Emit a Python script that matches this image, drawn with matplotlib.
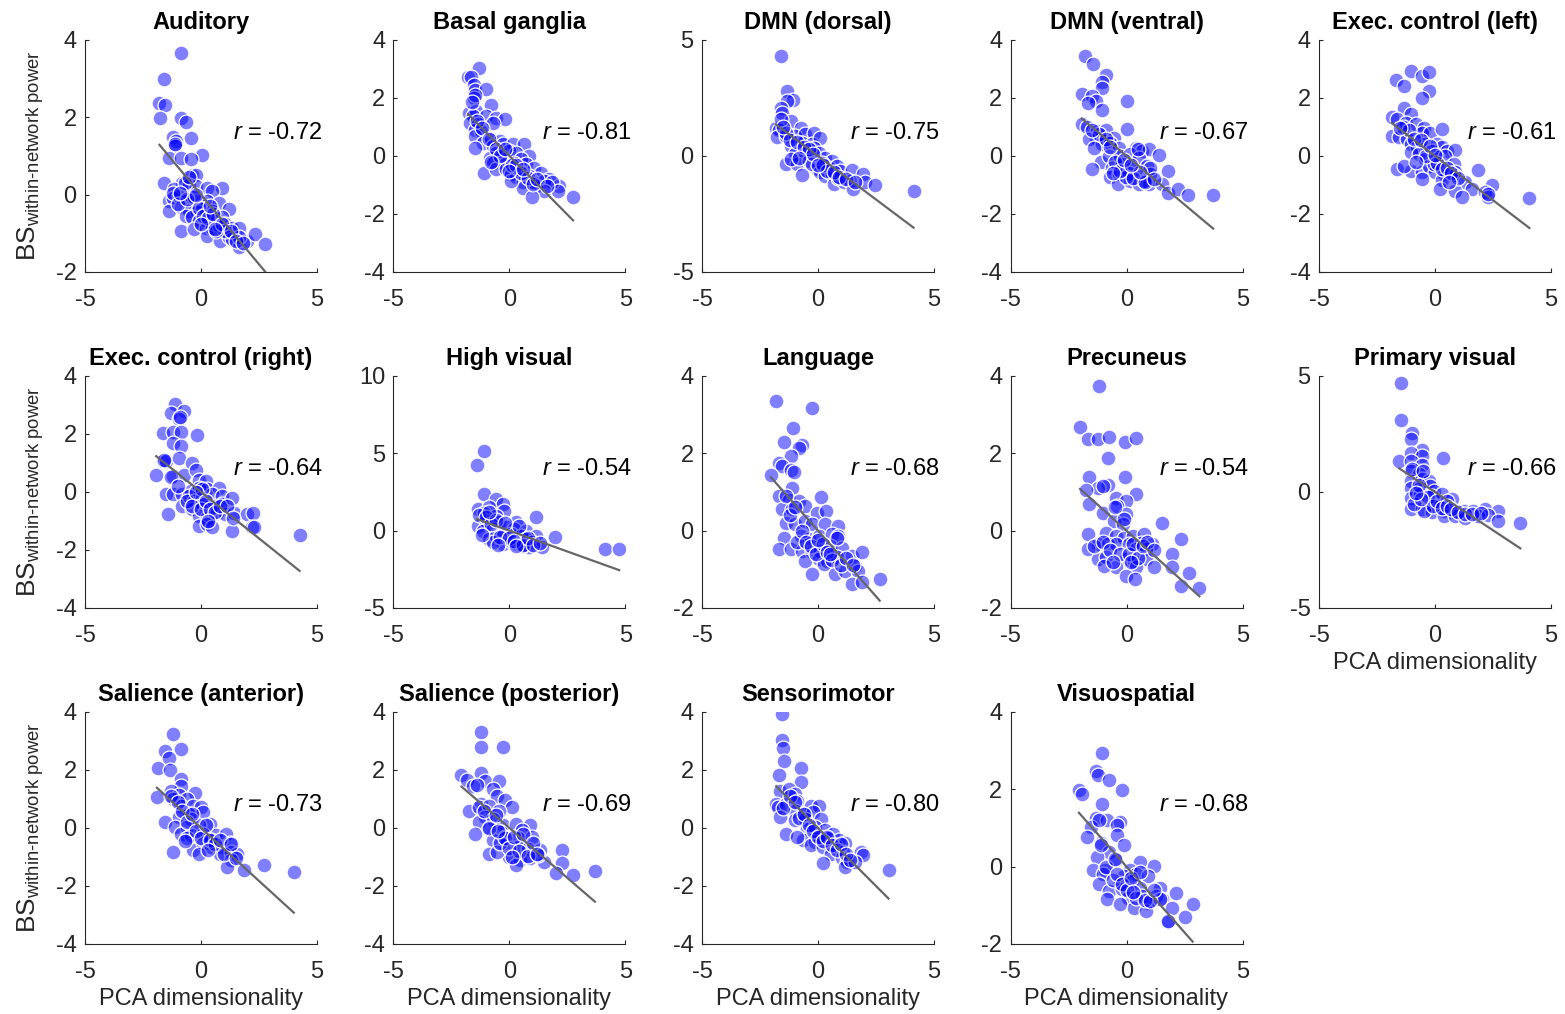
import numpy as np
import matplotlib
matplotlib.use("Agg")
import matplotlib.pyplot as plt

plt.rcParams['font.family'] = ['Liberation Sans', 'DejaVu Sans']
plt.rcParams['mathtext.fontset'] = 'custom'
plt.rcParams['mathtext.rm'] = 'Liberation Sans'
plt.rcParams['mathtext.it'] = 'Liberation Sans:italic'
plt.rcParams['axes.unicode_minus'] = False

# network names, correlation values and y ranges
titles = ['Auditory', 'Basal ganglia', 'DMN (dorsal)', 'DMN (ventral)', 'Exec. control (left)',
          'Exec. control (right)', 'High visual', 'Language', 'Precuneus', 'Primary visual',
          'Salience (anterior)', 'Salience (posterior)', 'Sensorimotor', 'Visuospatial']
r_vals = [-0.72, -0.81, -0.75, -0.67, -0.61, -0.64, -0.54, -0.68, -0.54, -0.66, -0.73, -0.69, -0.80, -0.68]
ylims = [(-2, 4), (-4, 4), (-5, 5), (-4, 4), (-4, 4), (-4, 4), (-5, 10), (-2, 4), (-2, 4), (-5, 5),
         (-4, 4), (-4, 4), (-4, 4), (-2, 4)]
ysteps = [2, 2, 5, 2, 2, 2, 5, 2, 2, 5, 2, 2, 2, 2]

aud_x = [-0.87, -1.58, -1.79, -1.55, -1.76, -0.87, -0.65, -1.22, -1.08, -1.12, -0.44, 0.03, -1.37, -0.87, -0.44,
         -0.37, -0.23, -0.83, -0.51, -0.23, -1.58, -1.15, 0.27, 0.91, 0.48, -1.37, -1.22, -0.94, -0.65, -0.44,
         -0.09, 0.27, 0.77, -1.37, -0.87, -0.51, -0.16, 0.06, 0.20, 0.48, 1.19, -0.65, -0.37, -0.09, 0.27,
         0.63, 0.91, -0.87, -0.30, 0.20, 0.48, 0.77, 1.05, 1.34, 1.62, 0.27, 0.84, 1.19, 1.34, 1.62, 1.98,
         2.33, 2.76, 1.05, 0.63, 1.62,
         -1.2, -1.0, -0.7, -0.5, -0.3, -0.1, 0.1, 0.3, 0.5, -0.6, -0.2, 0.4, 0.9, 1.3, 1.5, 1.8, -0.9, -1.1,
         0.0, 0.6]
aud_y = [3.67, 2.98, 2.36, 2.33, 1.99, 1.97, 1.87, 1.50, 1.38, 1.25, 1.46, 1.02, 0.95, 0.95, 0.91,
         0.52, 0.52, 0.31, 0.26, 0.22, 0.31, 0.14, 0.18, 0.16, 0.09, -0.16, -0.08, -0.03, -0.16, -0.21,
         -0.16, -0.16, -0.21, -0.42, -0.33, -0.42, -0.46, -0.38, -0.50, -0.42, -0.38, -0.55, -0.59, -0.68, -0.68,
         -0.63, -0.59, -0.93, -0.89, -0.85, -0.85, -0.78, -0.76, -0.85, -0.85, -1.06, -1.19, -1.10, -1.15, -1.36, -1.19,
         -1.02, -1.27, -0.94, -0.94, -1.10,
         0.05, -0.25, 0.3, 0.45, -0.05, -0.35, -0.55, -0.6, -0.5, -0.1, 0.0, -0.3, -0.75, -0.95, -1.2, -1.25, 0.05, 1.3,
         -0.75, -0.9]

bg_x = [-1.31, -1.78, -1.64, -1.54, -1.50, -1.00, -1.54, -0.79, -1.75, -1.43, -1.57, -1.00, -0.57, -0.21, -1.71,
        -1.36, -0.71, -1.50, -1.21, -1.50, -1.14, -0.79, -0.43, -1.50, -0.71, -0.29, 0.14, 0.64, -0.57, 0.00,
        0.29, -0.86, -0.43, 0.86, 0.50, -0.71, -0.21, 0.21, 0.71, 1.07, -1.11, -0.57, -0.14, 0.07, 0.43,
        1.36, 0.29, 0.86, 1.71, 2.14, 0.57, 1.00, 1.50, 1.83, 0.57, 1.14, 1.50, 2.07, 0.96, 2.74, 0.07,
        -1.5, -1.4, -1.2, -0.9, -0.6, -0.4, -0.2, 0.1, 0.3, 0.5, 0.8, 1.0, 1.2, 1.6, -1.6, -0.8, 0.0, 0.6]
bg_y = [3.05, 2.74, 2.71, 2.46, 2.29, 2.32, 2.00, 1.75, 1.49, 1.54, 1.37, 1.37, 1.31, 1.29, 1.14,
        1.09, 1.14, 0.91, 0.86, 0.69, 0.46, 0.57, 0.51, 0.29, 0.34, 0.40, 0.40, 0.40, 0.11, 0.17,
        0.11, -0.06, -0.06, 0.00, -0.11, -0.23, -0.29, -0.23, -0.29, -0.40, -0.57, -0.46, -0.46, -0.63, -0.51,
        -0.57, -0.74, -0.69, -0.80, -1.03, -0.91, -0.91, -0.86, -0.91, -1.09, -1.03, -1.20, -1.20, -1.41, -1.43, -0.86,
        2.1, 1.2, 0.95, 0.6, 0.25, 0.0, 0.25, -0.3, -0.3, -0.6, -0.75, -0.95, -0.8, -1.05, 1.85, -0.2, -0.5, -0.45]

dmnd_x = [-1.61, -1.35, -1.07, -1.32, -1.61, -1.54, -1.82, -1.68, -1.18, -0.75, -1.75, -1.39, -0.97, -0.54, -0.18,
          -1.18, -0.68, -0.26, 0.10, -0.18, -0.97, -0.54, 0.03, -1.39, -0.90, -0.40, 0.31, 0.60, -0.68, -0.04,
          -0.26, 0.10, 0.46, 0.81, 0.31, 0.60, 0.95, 1.45, 0.67, 1.10, 1.38, 1.52, 1.95, 2.02, 2.45,
          4.12, 0.88, 0.17, -1.18,
          -1.6, -1.4, -1.2, -0.9, -0.6, -0.4, -0.2, 0.2, 0.4, 0.7, 0.9, 1.2, 1.6, -1.5, -0.8, 0.0]
dmnd_y = [4.29, 2.79, 2.40, 2.36, 2.07, 1.86, 1.21, 1.14, 1.50, 1.21, 0.81, 0.86, 0.86, 0.93, 1.00,
          0.43, 0.57, 0.50, 0.79, 0.36, 0.07, 0.14, 0.14, -0.36, -0.36, -0.21, -0.07, -0.21, -0.81, -0.57,
          -0.36, -0.71, -0.50, -0.43, -0.86, -0.79, -0.64, -0.61, -1.21, -1.14, -1.07, -1.43, -0.79, -1.14, -1.26,
          -1.50, -0.93, -0.29, -0.14,
          1.6, 1.0, 0.7, 0.6, 0.4, 0.3, 0.1, -0.4, -0.65, -0.7, -0.9, -1.0, -1.1, 1.25, -0.1, -0.4]

dmnv_x = [-1.79, -1.44, -0.90, -1.04, -1.07, -1.93, -1.47, -1.33, 0.03, -1.64, -1.07, -1.90, -1.69, 0.03, -1.26,
          -0.90, -1.33, -1.61, -0.97, -0.54, -1.04, -0.69, -1.40, -0.33, 0.39, 0.67, 0.96, 1.39, -1.10, -0.76,
          -0.26, 0.17, 0.53, -1.47, -0.61, -0.19, 0.24, 0.89, -0.69, -0.33, 0.10, 0.67, 1.03, 1.77, -0.36,
          0.17, 0.53, 0.96, 0.74, 1.53, 1.79, 2.24, 2.64, 3.74, -0.04,
          -1.2, -0.9, -0.7, -0.5, -0.3, -0.1, 0.3, 0.5, 0.8, 1.0, 0.6, 0.2, -0.6, 1.2, -1.5]
dmnv_y = [3.45, 3.17, 2.80, 2.54, 2.34, 2.14, 2.06, 1.89, 1.91, 1.83, 1.60, 1.09, 0.99, 0.94, 0.86,
          0.91, 0.63, 0.57, 0.51, 0.63, 0.40, 0.46, 0.29, 0.29, 0.29, 0.17, 0.23, 0.02, -0.21, 0.00,
          0.00, 0.06, -0.06, -0.46, -0.40, -0.29, -0.40, -0.34, -0.74, -0.63, -0.57, -0.69, -0.63, -0.51, -0.95,
          -0.86, -0.97, -0.97, -0.86, -0.97, -1.29, -1.14, -1.35, -1.34, -0.72,
          0.75, 0.6, 0.3, -0.2, -0.5, -0.15, -0.75, 0.25, -0.9, -0.4, -0.55, -0.3, -0.6, -0.8, 0.9]

ecl_x = [-1.05, -1.69, -1.34, -0.56, -0.24, -0.27, -0.56, -1.34, -1.87, -1.05, -1.62, -1.27, -0.84, -0.48, -1.87,
         -1.55, -1.20, -0.56, -0.20, 0.30, -1.05, -0.77, -0.41, 0.09, 0.30, -1.05, -0.70, -0.13, 0.51, 0.87,
         -0.41, 0.09, 0.44, 0.80, -1.62, -1.05, -1.34, -0.56, -0.27, 0.01, 0.37, 0.87, 1.84, -0.56, 0.30,
         0.80, 1.30, 0.23, 0.87, 1.58, 1.15, 2.44, 2.15, 2.29, 4.07, -0.06,
         -1.4, -1.1, -0.9, -0.6, -0.4, -0.2, 0.1, 0.3, 0.5, 0.7, 1.0, -0.8, 0.0, 0.6, 2.3, -1.5]
ecl_y = [2.94, 2.63, 2.40, 2.75, 2.89, 2.23, 2.01, 1.66, 1.34, 1.44, 1.26, 1.15, 1.09, 0.98, 0.70,
         0.64, 0.58, 0.81, 0.81, 0.92, 0.41, 0.30, 0.41, 0.41, 0.30, 0.13, 0.07, 0.18, 0.18, 0.21,
         -0.10, -0.05, 0.01, -0.27, -0.44, -0.50, -0.33, -0.56, -0.33, -0.56, -0.62, -0.56, -0.48, -0.79, -0.84,
         -0.67, -0.90, -1.13, -1.19, -1.13, -1.41, -1.01, -1.24, -1.41, -1.44, -0.27,
         1.0, 0.9, 0.6, 0.55, 0.0, 0.35, -0.25, -0.45, -0.4, -0.6, -0.75, -0.2, 0.05, -0.9, -1.3, 0.95]

ecr_x = [-1.11, -1.29, -0.73, -0.94, -1.65, -1.22, -0.87, -0.16, -1.22, -0.87, -1.65, -1.51, -0.94, -0.37, -1.93,
         -1.22, -0.73, -0.23, -0.09, 0.20, -1.51, -1.22, -0.80, -0.44, -0.09, 0.27, 0.77, -0.80, -0.51, -0.30,
         0.06, 0.48, 0.91, -1.44, -0.37, 0.06, 0.55, 0.91, 1.34, -0.09, 0.27, 0.70, 1.05, 1.41, -0.09,
         0.27, 0.48, 1.34, 1.98, 2.26, 2.19, 4.25, 0.06,
         -1.6, -1.3, -1.0, -0.6, -0.4, -0.2, 0.0, 0.2, 0.4, 0.6, 0.8, 1.1, 1.4, -0.9, 0.3, 2.3]
ecr_y = [3.05, 2.74, 2.79, 2.51, 2.05, 2.08, 2.08, 1.95, 1.68, 1.57, 1.06, 1.08, 1.17, 1.00, 0.60,
         0.55, 0.60, 0.77, 0.43, 0.38, -0.06, -0.08, -0.08, 0.03, 0.15, 0.09, 0.15, -0.48, -0.14, -0.31,
         -0.19, -0.08, -0.14, -0.76, -0.59, -0.42, -0.48, -0.42, -0.19, -0.82, -0.88, -0.71, -0.76, -0.71, -1.16,
         -1.10, -1.22, -1.33, -0.76, -0.71, -1.22, -1.50, 0.09,
         1.1, 0.5, 0.2, -0.3, -0.5, 0.0, -0.6, -0.3, -0.6, -0.7, -0.5, -0.5, -0.9, 2.6, -1.0, -1.2]

hv_x = [-1.11, -1.40, -1.12, -0.58, -0.30, -1.37, -0.87, -0.23, -1.12, -0.58, 1.13, -1.37, -1.01, -0.44, 0.27,
        -1.15, -0.73, -0.16, 0.20, 0.70, -0.90, -0.58, -0.30, 0.06, 0.48, 1.13, 1.95, -0.30, 0.06, 0.34,
        0.70, 0.98, 1.41, 0.84, 4.12, 4.73, -0.73, 0.56,
        -1.3, -1.0, -0.8, -0.6, -0.4, -0.2, 0.0, 0.2, 0.4, 0.6, 0.8, 1.0, 1.3, -1.2, -0.5, 0.3, -0.9]
hv_y = [5.18, 4.24, 2.40, 2.03, 1.71, 1.39, 1.50, 1.28, 1.11, 0.96, 0.90, 0.32, 0.64, 0.54, 0.54,
        0.00, 0.11, 0.21, 0.11, 0.00, -0.54, -0.32, -0.32, -0.21, -0.32, -0.32, -0.39, -0.86, -0.64, -0.86,
        -0.54, -0.75, -1.07, -1.07, -1.18, -1.18, -0.75, -0.96,
        1.0, 0.9, 0.4, 0.7, -0.4, 0.5, -0.5, -0.7, 0.3, -0.9, -0.5, -0.9, -0.8, -0.3, -0.9, -1.0, 1.2]

lang_x = [-1.82, -0.28, -1.08, -1.46, -0.68, -0.83, -1.18, -1.68, -1.54, -1.18, -1.04, -2.03, -1.11, -1.68, -1.25,
          -0.83, 0.14, -1.54, -1.11, -0.54, -0.04, 0.34, -1.39, -0.97, -0.54, -0.26, 0.31, 0.88, -1.46, -0.75,
          -0.40, 0.03, 0.60, 0.88, -1.68, -1.18, -0.68, -0.26, 0.10, 0.53, 1.02, -0.54, 0.03, 0.38, 0.81,
          1.45, 1.88, -0.26, 0.74, 1.17, 1.59, 1.74, 1.45, 1.88, 2.66, 0.24,
          -1.4, -1.2, -0.9, -0.7, -0.5, -0.3, -0.1, 0.2, 0.4, 0.6, 0.8, 1.0, 1.2, 1.5, -1.0, 0.0, 0.5]
lang_y = [3.35, 3.16, 2.66, 2.30, 2.22, 2.13, 1.92, 1.75, 1.66, 1.58, 1.53, 1.43, 1.10, 0.89, 0.80,
          0.76, 0.86, 0.55, 0.55, 0.63, 0.46, 0.51, 0.21, 0.16, 0.25, 0.16, 0.16, 0.12, -0.18, -0.14,
          -0.22, -0.14, -0.09, -0.14, -0.48, -0.48, -0.52, -0.56, -0.52, -0.39, -0.44, -0.78, -0.74, -0.78, -0.69,
          -0.65, -0.56, -1.12, -1.12, -1.04, -0.91, -1.04, -1.38, -1.34, -1.25, -0.86,
          0.9, 0.4, -0.3, 0.0, -0.3, -0.4, -0.6, -0.35, -0.55, -0.75, -0.2, -0.9, -0.7, -0.9, 0.6, -0.25, -0.6]

prec_x = [-1.20, -2.00, -1.67, -1.24, -0.77, -0.06, 0.40, -0.81, -1.60, -0.06, -0.81, -1.24, -1.74, 0.40, -0.46,
          -0.03, -1.60, -0.39, -1.03, -0.03, -0.53, -0.17, 1.54, -1.67, -0.88, -0.46, -0.10, 0.26, 0.76, 2.33,
          -1.24, -0.81, -0.46, 0.11, 0.61, 1.11, -1.67, 0.40, 0.83, 1.94, -1.24, -0.88, -0.03, 0.33, 0.83,
          -0.46, 0.40, 1.18, -0.03, 0.37, 1.97, 2.68, 2.33, 3.14, -0.96,
          -1.4, -1.0, -0.7, -0.5, -0.3, -0.1, 0.1, 0.3, 0.5, 0.7, 0.9, 1.2, -0.6, 0.2, -1.0]
prec_y = [3.74, 2.69, 2.37, 2.37, 2.41, 2.30, 2.39, 1.89, 1.39, 1.39, 1.19, 1.10, 1.06, 0.95, 0.85,
          0.76, 0.68, 0.63, 0.46, 0.42, 0.25, 0.16, 0.19, -0.09, -0.05, -0.14, -0.18, -0.14, -0.09, -0.21,
          -0.35, -0.35, -0.35, -0.35, -0.31, -0.35, -0.48, -0.48, -0.48, -0.61, -0.74, -0.69, -0.74, -0.78, -0.74,
          -0.95, -0.95, -0.95, -1.16, -1.25, -0.95, -1.10, -1.44, -1.49, -0.91,
          -0.4, -0.3, -0.5, 0.6, -0.6, 0.3, -0.6, -0.35, -0.7, -0.4, -0.3, -0.5, -0.8, -0.8, 1.15]

pv_x = [-1.48, -1.48, -1.01, -1.05, -0.58, -1.05, -0.56, -1.55, -1.05, 0.34, -0.56, -1.05, -0.70, -1.05, -0.56,
        -0.27, -1.05, -0.63, -0.20, -0.06, -1.05, -0.63, -0.13, 0.30, 0.73, -1.05, -0.56, -0.13, 0.23, 0.51,
        -0.13, 0.37, 0.80, 1.23, 1.65, 2.15, 2.72, 0.37, 0.87, 1.30, 1.87, 2.29, 2.72, 3.68, -0.48,
        -1.0, -0.9, -0.7, -0.5, -0.3, -0.1, 0.1, 0.3, 0.5, 0.7, 1.0, 1.3, 1.6, 2.0, -0.6, -0.8]
pv_y = [4.68, 3.11, 2.54, 2.30, 1.83, 1.68, 1.54, 1.33, 1.33, 1.47, 1.18, 0.90, 0.76, 0.47, 0.54,
        0.47, 0.19, 0.19, 0.26, 0.04, -0.24, -0.10, -0.17, -0.10, -0.31, -0.74, -0.74, -0.53, -0.60, -0.39,
        -0.88, -0.81, -0.88, -0.81, -0.81, -0.74, -0.81, -1.03, -1.03, -1.10, -1.03, -0.98, -1.24, -1.34, -0.81,
        1.0, -0.5, 0.3, 0.9, -0.2, -0.6, -0.4, -0.7, -0.6, -0.75, -0.85, -0.95, -0.95, -0.9, -0.3, -0.05]

sa_x = [-1.21, -0.86, -1.56, -1.38, -1.85, -1.33, -0.86, -0.86, -1.90, -1.29, -0.94, -0.24, -1.21, -0.59, -0.86,
        -0.33, 0.02, -0.51, 0.10, -0.94, -1.56, -0.42, 0.37, -1.12, -0.59, -0.07, -0.86, -0.42, 0.10, 0.63,
        1.07, -1.21, -0.33, 0.10, 0.45, 0.89, 1.24, -0.07, 0.80, 1.31, 1.57, 1.31, 1.14, 1.85, 2.73,
        4.00, 0.45, -0.59,
        -1.3, -1.0, -0.8, -0.6, -0.4, -0.2, 0.0, 0.2, 0.4, 0.6, 0.8, 1.0, 1.3, 1.5, -0.7, 0.3]
sa_y = [3.25, 2.72, 2.64, 2.40, 2.06, 2.00, 1.68, 1.46, 1.06, 1.29, 1.15, 1.19, 1.00, 1.00, 0.77,
        0.77, 0.72, 0.49, 0.55, 0.38, 0.20, 0.32, 0.15, 0.03, 0.03, 0.09, -0.19, -0.25, -0.19, -0.25,
        -0.19, -0.82, -0.76, -0.53, -0.65, -0.65, -0.53, -0.88, -0.88, -0.82, -0.88, -1.10, -1.33, -1.44, -1.27,
        -1.50, -0.42, -0.36,
        1.1, 0.9, 0.6, 0.2, 0.5, -0.1, -0.35, 0.1, -0.4, -0.55, -0.4, -0.9, -0.55, -1.05, -0.45, -0.75]

sp_x = [-1.23, -1.23, -0.26, -2.07, -1.23, -1.84, -1.05, -0.44, -1.58, -0.70, -0.53, -0.21, -1.23, 0.09, -1.75,
        -1.32, -0.88, -0.44, -1.05, -0.70, -1.32, -0.26, 0.26, 0.88, -0.88, -0.35, 0.53, -1.49, -0.70, -0.18,
        0.35, 0.96, -0.88, -0.18, 0.35, 0.79, 1.32, 2.28, 0.00, 0.44, 0.88, 1.49, 0.26, 2.28, 2.02,
        2.72, 3.68, 1.23, -0.53,
        -1.1, -0.9, -0.6, -0.4, -0.2, 0.0, 0.2, 0.4, 0.6, 0.8, 1.0, 1.2, -1.4, -0.5, 0.1]
sp_y = [3.31, 2.79, 2.79, 1.83, 1.91, 1.65, 1.63, 1.63, 1.46, 1.34, 1.11, 0.97, 0.83, 0.72, 0.60,
        0.72, 0.77, 0.60, 0.38, 0.32, 0.20, 0.09, 0.15, 0.09, -0.02, -0.14, -0.08, -0.19, -0.42, -0.31,
        -0.36, -0.31, -0.88, -0.59, -0.65, -0.71, -0.76, -0.76, -0.99, -1.10, -1.05, -1.16, -1.27, -1.22, -1.56,
        -1.62, -1.47, -0.93, -0.82,
        0.6, 0.0, 0.45, -0.5, -0.35, -0.7, -0.3, -0.8, -0.2, -0.95, -0.5, -0.9, 1.5, -0.1, -1.0]

sm_x = [-1.54, -1.57, -1.50, -1.45, -0.75, -1.68, -0.75, -1.62, -1.27, -1.01, -1.80, -1.71, -1.36, -0.92, -0.31,
        0.03, -1.62, -1.01, -0.66, -0.23, -1.01, -0.58, 0.12, -1.36, -0.49, -0.14, 0.30, 0.65, -0.66, -0.14,
        0.38, 0.91, -0.31, 0.21, 0.73, 1.17, 0.56, 1.08, 1.87, 1.96, 0.21, 1.03, 1.26, 1.17, 1.61,
        3.04, 0.03,
        -1.5, -1.2, -1.0, -0.8, -0.6, -0.4, -0.2, 0.0, 0.2, 0.4, 0.6, 0.8, 1.0, 1.2, 1.4, -0.9]
sm_y = [3.92, 3.05, 2.75, 2.31, 2.08, 1.83, 1.57, 1.29, 1.34, 1.17, 0.83, 0.72, 0.83, 0.94, 0.77,
        0.77, 0.38, 0.60, 0.49, 0.55, 0.26, 0.32, 0.32, -0.19, -0.02, 0.03, -0.08, -0.19, -0.42, -0.48,
        -0.36, -0.42, -0.59, -0.65, -0.59, -0.53, -0.88, -0.82, -0.82, -0.93, -1.19, -1.05, -1.16, -1.33, -1.16,
        -1.44, -0.31,
        0.7, 1.1, 0.9, 0.35, 0.5, 0.1, -0.1, -0.3, -0.45, -0.3, -0.6, -0.75, -0.55, -0.9, -1.1, -0.3]

vs_x = [-1.05, -1.30, -1.23, -0.77, -2.05, -1.91, -0.21, -1.05, -1.30, -0.82, -0.30, -0.42, -1.52, -1.70, -0.39,
        -1.09, -0.12, -0.74, -1.26, -0.47, 0.58, -1.44, -0.91, 0.14, 1.19, -1.00, -0.12, 0.40, 0.93, -1.17,
        -0.30, 0.23, -0.74, -0.21, 0.58, 1.45, -0.82, 0.05, 0.67, 1.28, 2.15, -0.30, 0.32, 0.93, 1.54,
        1.98, 2.85, 0.84, 1.80, 2.50, 1.45,
        -1.1, -0.9, -0.6, -0.4, -0.2, 0.0, 0.2, 0.4, 0.6, 0.8, 1.0, 1.2, -1.2, -0.5, 0.3, 1.8]
vs_y = [2.93, 2.48, 2.36, 2.23, 1.97, 1.87, 1.99, 1.63, 1.25, 1.20, 1.16, 1.08, 1.03, 0.78, 0.82,
        0.61, 0.56, 0.39, 0.26, 0.18, 0.11, -0.08, -0.08, -0.08, 0.01, -0.20, -0.25, -0.20, -0.25, -0.46,
        -0.42, -0.38, -0.63, -0.59, -0.55, -0.55, -0.84, -0.80, -0.76, -0.76, -0.67, -0.97, -1.06, -0.93, -0.84,
        -1.06, -0.97, -1.14, -1.44, -1.31, -0.84,
        0.55, 0.0, -0.35, -0.2, -0.45, -0.6, -0.3, -0.8, -0.15, -0.85, -0.9, -0.6, 1.2, 0.2, -0.65, -1.4]

xs = [aud_x, bg_x, dmnd_x, dmnv_x, ecl_x, ecr_x, hv_x, lang_x, prec_x, pv_x, sa_x, sp_x, sm_x, vs_x]
ys = [aud_y, bg_y, dmnd_y, dmnv_y, ecl_y, ecr_y, hv_y, lang_y, prec_y, pv_y, sa_y, sp_y, sm_y, vs_y]

dark = (0.15, 0.15, 0.15)
fig = plt.figure(figsize=(15.65, 10.14), dpi=100)

left0, dx, w = 85 / 1565, 308.5 / 1565, 232 / 1565
h = 232 / 1014
bottoms = [1 - 272 / 1014, 1 - 608 / 1014, 1 - 944 / 1014]

for i in range(len(titles)):
    row, col = i // 5, i % 5
    ax = fig.add_axes([left0 + col * dx, bottoms[row], w, h])
    x = np.array(xs[i])
    y = np.array(ys[i])
    ax.scatter(x, y, s=115, facecolor=(0, 0, 1, 0.5), edgecolors='white', linewidths=0.9, zorder=2)
    # standardised data: fit line is y = r * x over the data range
    lx = np.array([x.min(), x.max()])
    ax.plot(lx, r_vals[i] * lx, color=(0.4, 0.4, 0.4), lw=1.6, zorder=3)

    ax.set_xlim(-5, 5)
    ax.set_ylim(*ylims[i])
    ax.set_xticks([-5, 0, 5])
    ax.set_yticks(np.arange(ylims[i][0], ylims[i][1] + 0.1, ysteps[i]))
    ax.tick_params(direction='in', length=3, width=0.8, colors=dark, labelsize=17, pad=6)
    ax.tick_params(axis='x', pad=12)
    for s in ['top', 'right']:
        ax.spines[s].set_visible(False)
    for s in ['left', 'bottom']:
        ax.spines[s].set_color(dark)
        ax.spines[s].set_linewidth(0.8)

    ax.set_title(titles[i], fontsize=17, fontweight='bold', pad=8)
    ax.text(0.638, 0.60, r'$r$ = %.2f' % r_vals[i], transform=ax.transAxes,
            fontsize=17, ha='left', va='center')
    if col == 0:
        ax.set_ylabel('BS$_{\\mathregular{within\u2010network\\ power}}$', fontsize=19, color=dark, labelpad=7)
    if row == 2 or i == 9:
        ax.set_xlabel('PCA dimensionality', fontsize=17, color=dark)

fig.savefig('out.png', dpi=100)
